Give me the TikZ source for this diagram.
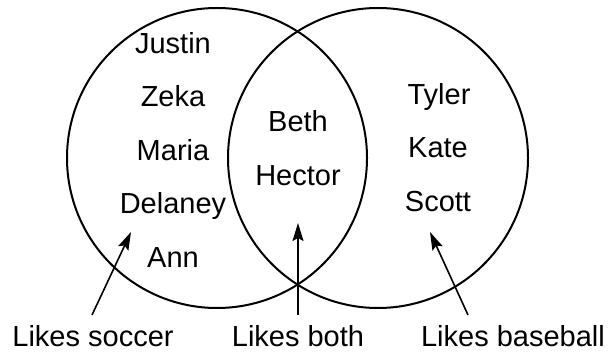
\documentclass[tikz,border=0pt]{standalone}
\usepackage{fontspec}
\setmainfont{Liberation Sans}
\usetikzlibrary{arrows.meta}
\begin{document}
\begin{tikzpicture}[x=1pt,y=-1pt,
  ring/.style={line width=2pt},
  nametext/.style={anchor=base,inner sep=0pt,font=\fontsize{29}{34}\selectfont},
  pointer/.style={line width=1.6pt,-{Stealth[length=18pt,width=11pt,inset=3pt]}}]
\useasboundingbox (0,0) rectangle (612,352);
\draw[ring] (217,158) circle [radius=150];
\draw[ring] (378,158) circle [radius=150];
% left only
\node[nametext] (justin) at (173,54) {Justin};
\node[nametext] (zeka) at (173,107) {Zeka};
\node[nametext] (maria) at (173,161) {Maria};
\node[nametext] (delaney) at (173,214) {Delaney};
\node[nametext] (ann) at (173,268) {Ann};
% both
\node[nametext] (beth) at (298,132) {Beth};
\node[nametext] (hector) at (298,186) {Hector};
% right only
\node[nametext] (tyler) at (439,105) {Tyler};
\node[nametext] (kate) at (438,158) {Kate};
\node[nametext] (scott) at (438,212) {Scott};
% labels
\node[nametext] (soccer) at (93,346) {Likes soccer};
\node[nametext] (both) at (298,346) {Likes both};
\node[nametext] (baseball) at (513,346) {Likes baseball};
\coordinate (soccertail) at (92,315);
\coordinate (soccertip) at (131,232);
\coordinate (bothtail) at (298,315);
\coordinate (bothtip) at (298,223);
\coordinate (baseballtail) at (468,315);
\coordinate (baseballtip) at (430,232);
\draw[pointer] (soccertail) -- (soccertip);
\draw[pointer] (bothtail) -- (bothtip);
\draw[pointer] (baseballtail) -- (baseballtip);
\end{tikzpicture}
\end{document}
